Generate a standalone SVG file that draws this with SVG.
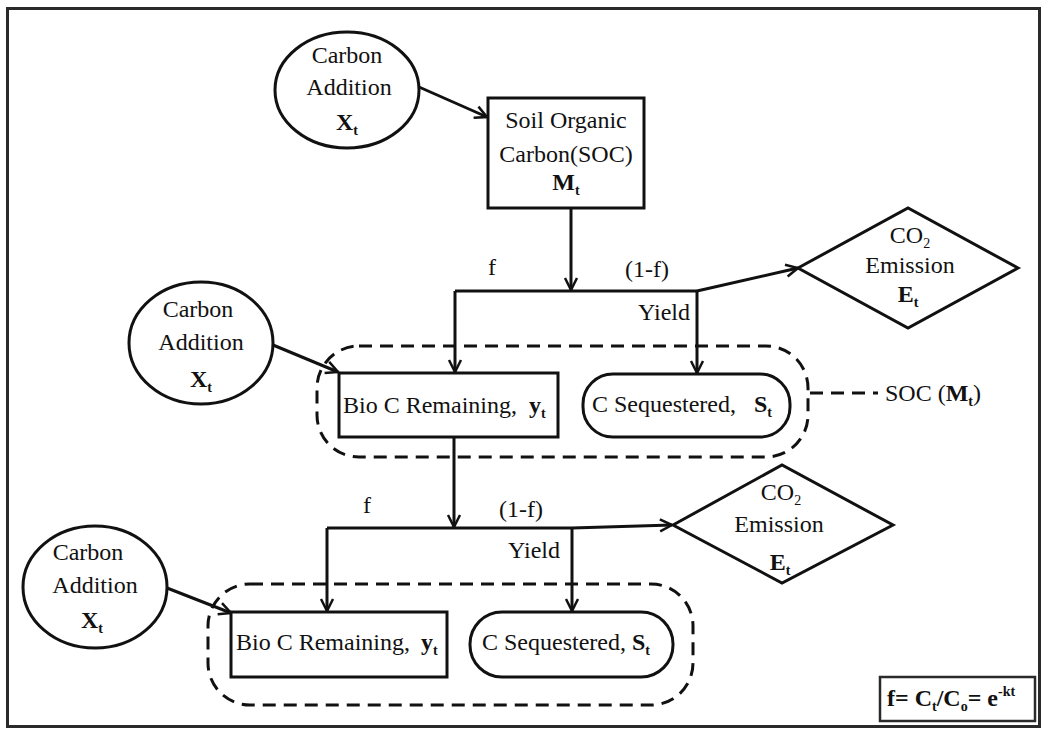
<svg xmlns="http://www.w3.org/2000/svg" width="1043" height="732" viewBox="0 0 1043 732">
  <style>
    text { font-family: "Liberation Serif", "DejaVu Serif", serif; }
    .txt { font-size: 24px; fill: #111111; }
    .mid { text-anchor: middle; }
    .b { font-weight: bold; }
    .sub { font-size: 14px; }
    .shape { fill: #ffffff; stroke: #111111; stroke-width: 3; }
    .dash { fill: none; stroke: #111111; stroke-width: 3; stroke-dasharray: 13 8; }
    .line { fill: none; stroke: #111111; stroke-width: 3; }
    .arrow { fill: none; stroke: #111111; stroke-width: 3; marker-end: url(#head); }
  </style>
  <defs>
    <marker id="head" viewBox="0 0 16 16" refX="14" refY="8" markerWidth="16" markerHeight="16" markerUnits="userSpaceOnUse" orient="auto">
      <path d="M2,2 L14,8 L2,14" fill="none" stroke="#111111" stroke-width="2.5"/>
    </marker>
  </defs>

  <rect width="1043" height="732" fill="#ffffff"/>
  <!-- outer frame -->
  <rect x="7.5" y="8.5" width="1032" height="718" fill="none" stroke="#2a2a2a" stroke-width="3"/>

  <!-- soil pools (dashed groupings) -->
  <g id="pool1">
    <rect class="dash" x="317" y="346" width="491" height="111" rx="42"/>
  </g>
  <g id="pool2">
    <rect class="dash" x="208" y="584" width="485" height="121" rx="42"/>
  </g>

  <g id="connectors">
    <line class="arrow" x1="419" y1="87" x2="487" y2="117"/>
    <line class="arrow" x1="571" y1="208" x2="571" y2="290"/>
    <polyline class="line" points="455,291 697,291"/>
    <line class="arrow" x1="455" y1="291" x2="455" y2="372"/>
    <line class="arrow" x1="697" y1="291" x2="697" y2="373"/>
    <line class="arrow" x1="697" y1="291" x2="798" y2="268"/>
    <line class="arrow" x1="273" y1="345" x2="338" y2="372"/>
    <line class="arrow" x1="454" y1="437" x2="454" y2="527"/>
    <polyline class="line" points="327,528 572,528"/>
    <line class="arrow" x1="327" y1="528" x2="327" y2="611"/>
    <line class="arrow" x1="572" y1="528" x2="572" y2="611"/>
    <line class="arrow" x1="572" y1="528" x2="672" y2="525"/>
    <line class="arrow" x1="167" y1="588" x2="231" y2="613"/>
    <line class="dash" x1="810" y1="393" x2="878" y2="393" stroke-dasharray="12 8"/>
  </g>

  <!-- branch labels -->
  <g id="labels">
    <text class="txt mid" x="492" y="275">f</text>
    <text class="txt mid" x="647" y="277">(1-f)</text>
    <text class="txt mid" x="664" y="320">Yield</text>
    <text class="txt mid" x="367" y="513">f</text>
    <text class="txt mid" x="521" y="517">(1-f)</text>
    <text class="txt mid" x="534" y="558">Yield</text>
    <text class="txt" x="885" y="401">SOC (<tspan class="b">M</tspan><tspan class="sub b" dy="5">t</tspan><tspan dy="-5">)</tspan></text>
  </g>

  <g id="carbon-addition-1">
    <ellipse class="shape" cx="347" cy="90" rx="72" ry="58"/>
    <text class="txt mid" x="347" y="63">Carbon</text>
    <text class="txt mid" x="349" y="95">Addition</text>
    <text class="txt mid b" x="347" y="130">X<tspan class="sub" dy="5">t</tspan></text>
  </g>

  <g id="soc">
    <rect class="shape" x="488" y="98" width="156" height="110"/>
    <text class="txt mid" x="566" y="128">Soil Organic</text>
    <text class="txt mid" x="566" y="162">Carbon(SOC)</text>
    <text class="txt mid b" x="566" y="190">M<tspan class="sub" dy="5">t</tspan></text>
  </g>

  <g id="co2-emission-1">
    <polygon class="shape" points="798,268 908,208 1018,268 908,328"/>
    <text class="txt mid" x="910" y="243">CO<tspan class="sub" dy="5">2</tspan></text>
    <text class="txt mid" x="910" y="273">Emission</text>
    <text class="txt mid b" x="908" y="302">E<tspan class="sub" dy="5">t</tspan></text>
  </g>

  <g id="carbon-addition-2">
    <ellipse class="shape" cx="201" cy="343" rx="72" ry="61"/>
    <text class="txt mid" x="198" y="317">Carbon</text>
    <text class="txt mid" x="201" y="350">Addition</text>
    <text class="txt mid b" x="201" y="387">X<tspan class="sub" dy="5">t</tspan></text>
  </g>

  <g id="bio-c-1">
    <rect class="shape" x="339" y="373" width="219" height="64"/>
    <text class="txt" x="343" y="413">Bio C Remaining,<tspan class="b" x="529">y</tspan><tspan class="sub b" dy="5">t</tspan></text>
  </g>

  <g id="c-sequestered-1">
    <rect class="shape" x="583" y="374" width="207" height="63" rx="30"/>
    <text class="txt" x="592" y="412">C Sequestered,<tspan class="b" x="754">S</tspan><tspan class="sub b" dy="5">t</tspan></text>
  </g>

  <g id="co2-emission-2">
    <polygon class="shape" points="673,525 782,465 893,525 782,583"/>
    <text class="txt mid" x="781" y="500">CO<tspan class="sub" dy="5">2</tspan></text>
    <text class="txt mid" x="779" y="532">Emission</text>
    <text class="txt mid b" x="780" y="570">E<tspan class="sub" dy="5">t</tspan></text>
  </g>

  <g id="carbon-addition-3">
    <ellipse class="shape" cx="95" cy="587" rx="72" ry="61"/>
    <text class="txt mid" x="88" y="560">Carbon</text>
    <text class="txt mid" x="95" y="593">Addition</text>
    <text class="txt mid b" x="92" y="628">X<tspan class="sub" dy="5">t</tspan></text>
  </g>

  <g id="bio-c-2">
    <rect class="shape" x="231" y="612" width="216" height="65"/>
    <text class="txt" x="236" y="650">Bio C Remaining,<tspan class="b" x="421">y</tspan><tspan class="sub b" dy="5">t</tspan></text>
  </g>

  <g id="c-sequestered-2">
    <rect class="shape" x="470" y="612" width="203" height="65" rx="32"/>
    <text class="txt" x="482" y="650">C Sequestered,<tspan class="b" x="632">S</tspan><tspan class="sub b" dy="5">t</tspan></text>
  </g>

  <g id="formula">
    <rect x="880" y="677" width="155" height="44" fill="#ffffff" stroke="#2a2a2a" stroke-width="2.5"/>
    <text class="txt b" x="887" y="706">f= C<tspan class="sub" dy="5">t</tspan><tspan dy="-5">/C</tspan><tspan class="sub" dy="5">o</tspan><tspan dy="-5">= e</tspan><tspan class="sub" dy="-10">-kt</tspan></text>
  </g>
</svg>
